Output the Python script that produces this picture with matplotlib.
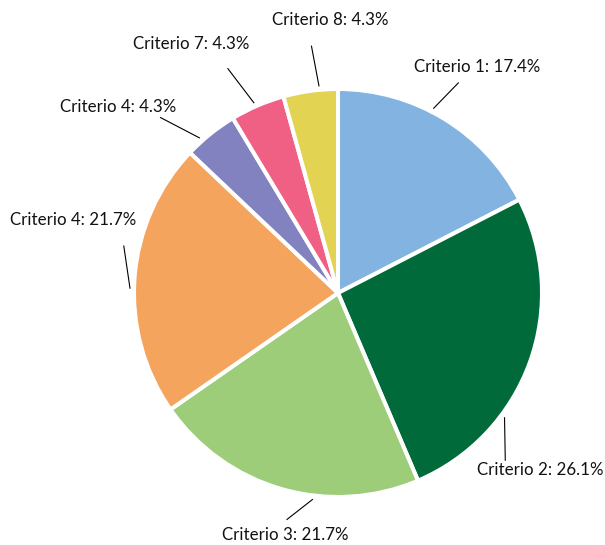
import numpy as np
import matplotlib
matplotlib.use("Agg")
import matplotlib.pyplot as plt

# datos del gráfico
labels = ["Criterio 1", "Criterio 2", "Criterio 3", "Criterio 4",
          "Criterio 4", "Criterio 7", "Criterio 8"]
pct = [17.4, 26.1, 21.7, 21.7, 4.3, 4.3, 4.3]
colors = ["#82B3E1", "#006A3A", "#9DCD78", "#F5A45D",
          "#8282C0", "#F06085", "#E3D353"]

# posición de etiquetas y líneas guía (unidades del radio)
nudge = [4, -17, 9, 3, 3, 0.6, -2.5]
line_end = [(0.59, 1.03), (0.82, -0.82), (-0.25, -1.11), (-1.05, 0.23),
            (-0.87, 0.86), (-0.54, 1.10), (-0.13, 1.21)]
text_pos = [(0.68, 1.11), (0.99, -0.87), (-0.26, -1.185), (-1.30, 0.36),
            (-1.08, 0.91), (-0.72, 1.22), (-0.04, 1.34)]

plt.rcParams['font.family'] = ['Lato', 'DejaVu Sans']

cx, cy, r = 338, 293, 204

fig = plt.figure(figsize=(6.05, 5.45), dpi=100)
ax = fig.add_axes([0, 0, 1, 1])
wedges, _ = ax.pie(pct, colors=colors, startangle=90, counterclock=False,
                   wedgeprops=dict(edgecolor="white", linewidth=2.9))

for w, lab, p, d, le, tp in zip(wedges, labels, pct, nudge, line_end, text_pos):
    ang = np.deg2rad((w.theta1 + w.theta2) / 2 + d)
    x0, y0 = 1.02 * np.cos(ang), 1.02 * np.sin(ang)
    ax.plot([x0, le[0]], [y0, le[1]], color="black", lw=0.8)
    ax.text(tp[0], tp[1], "{}: {}%".format(lab, p), ha="center", va="center",
            fontsize=12.2, color="#111111")

ax.set_aspect("auto")
ax.set_xlim(-cx / r, (605 - cx) / r)
ax.set_ylim(-(545 - cy) / r, cy / r)
ax.axis("off")
fig.savefig("out.png", dpi=100, facecolor="white")
